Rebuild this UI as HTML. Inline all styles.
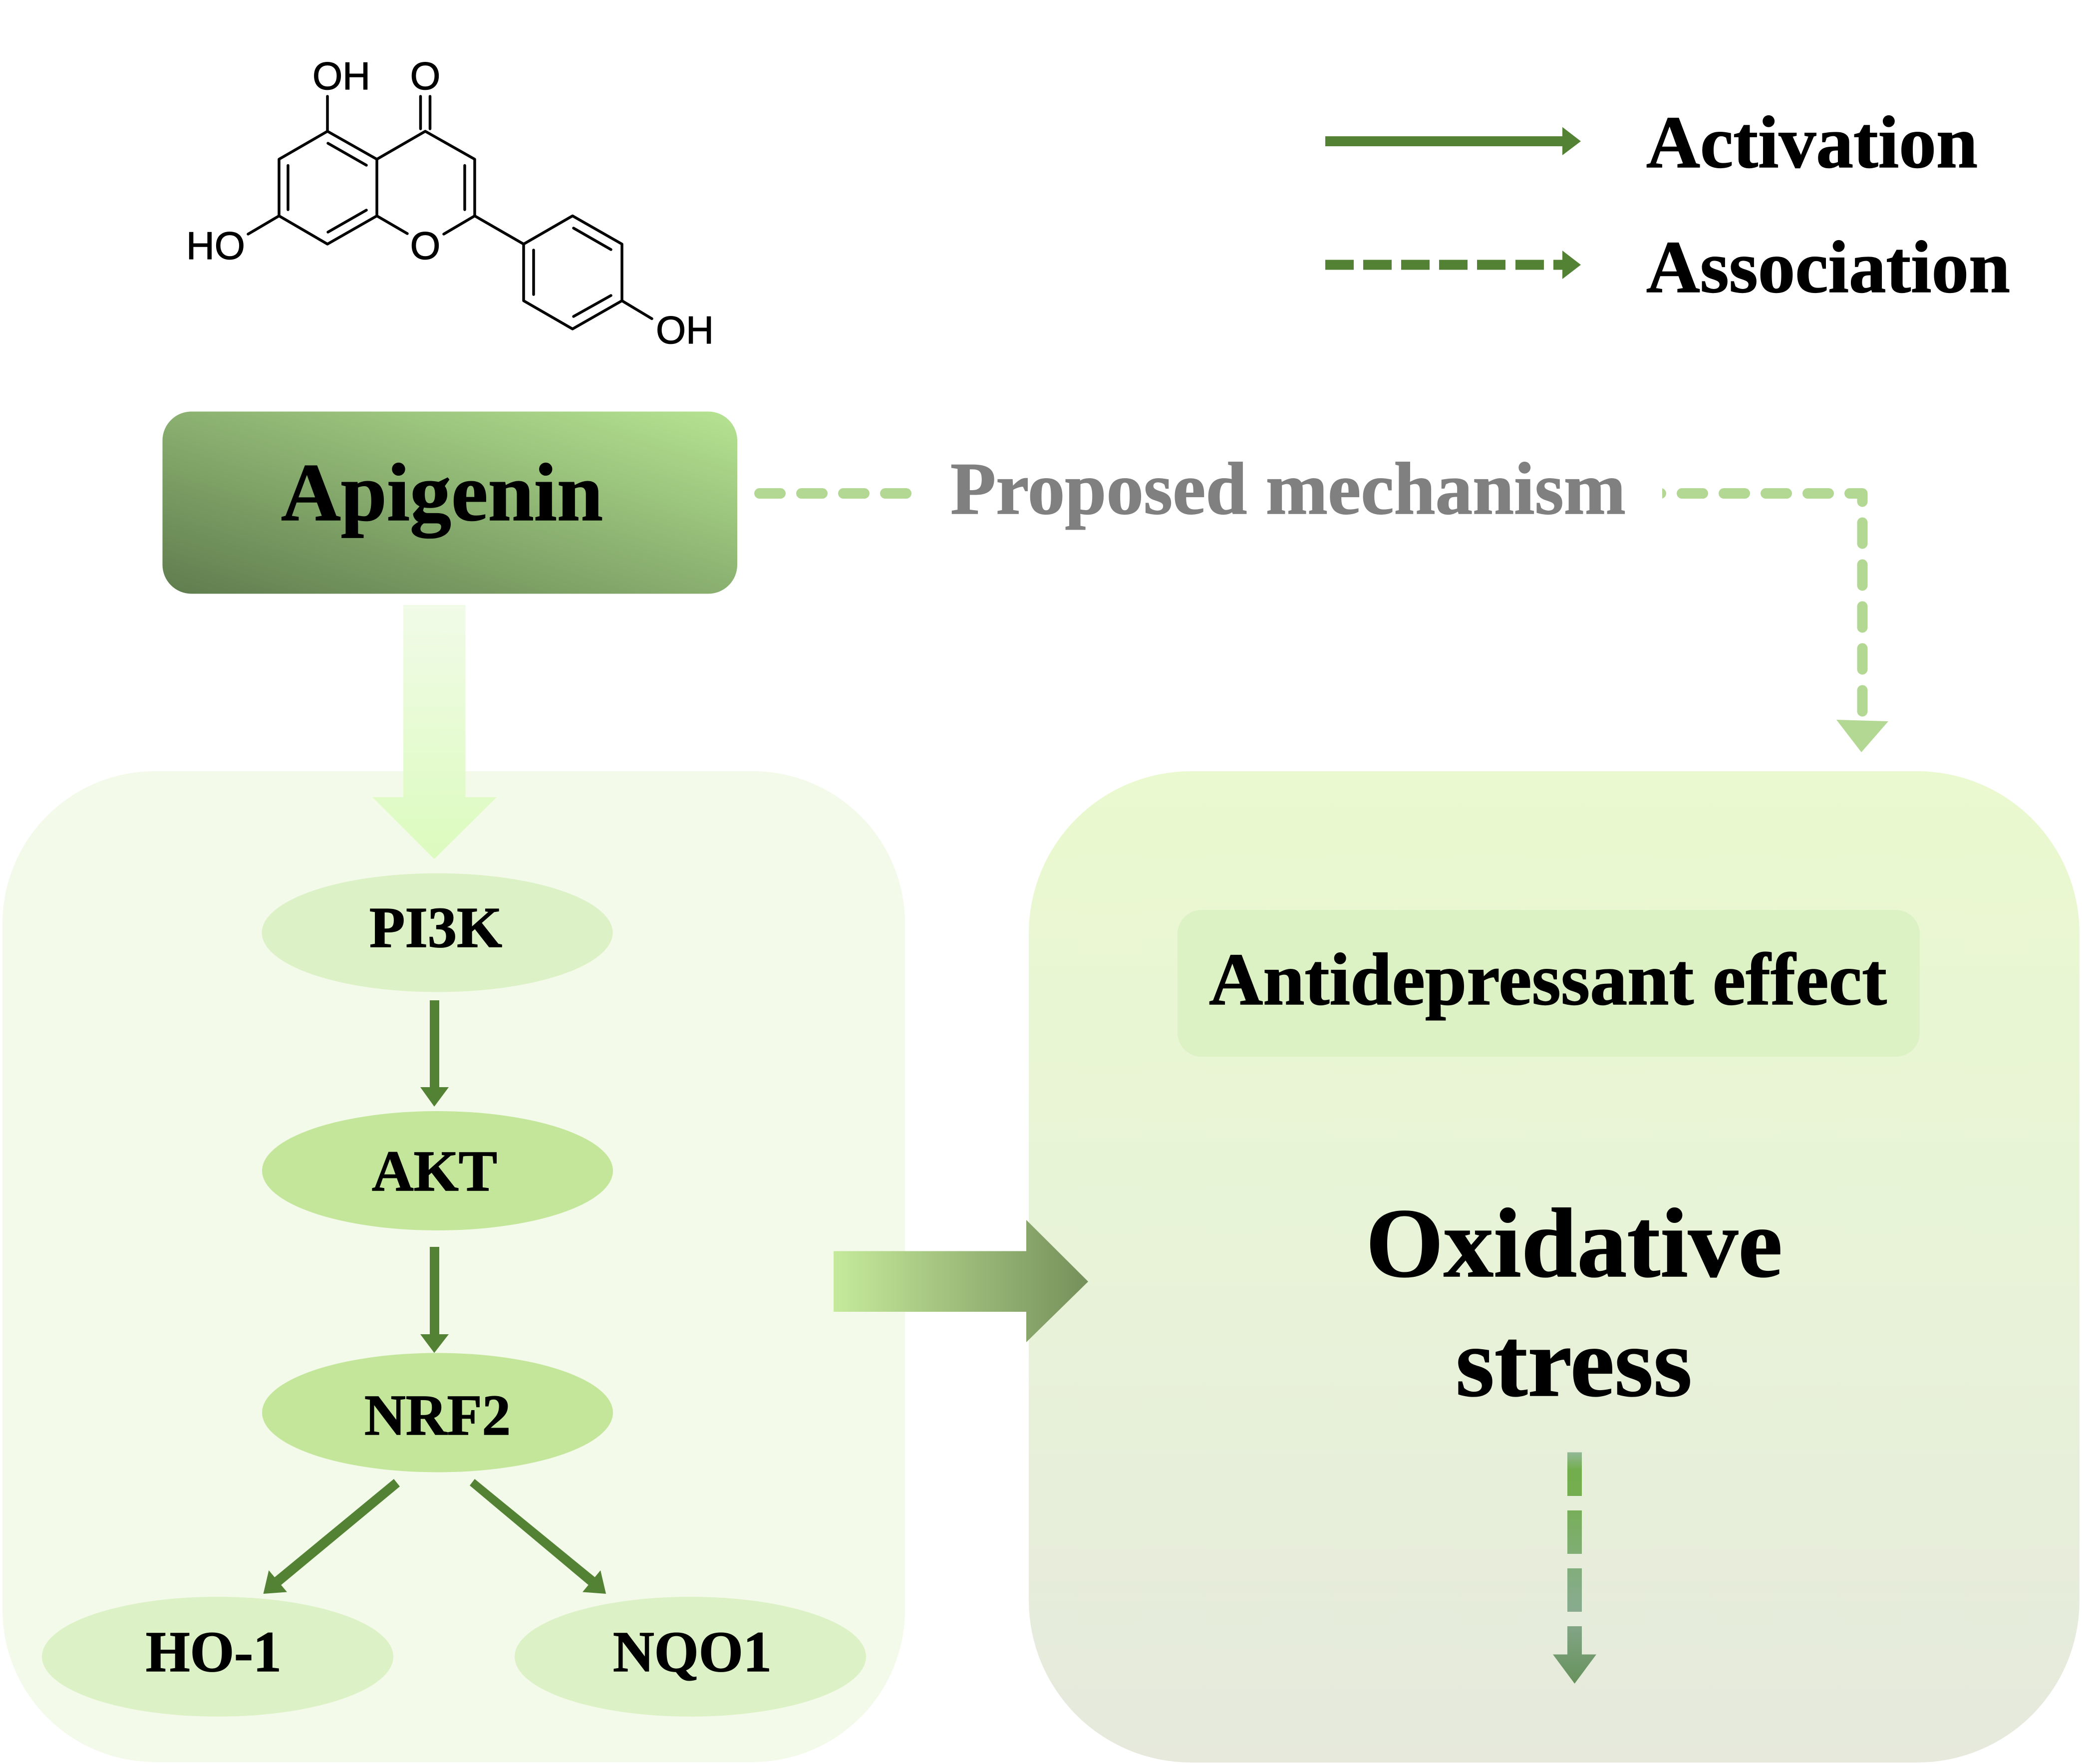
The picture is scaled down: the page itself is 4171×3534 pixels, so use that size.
<!DOCTYPE html>
<html lang="en">
<head>
<meta charset="utf-8">
<title>Apigenin mechanism</title>
<style>
html,body{margin:0;padding:0;background:#fff;width:4171px;height:3534px;overflow:hidden}
svg{display:block}
text{font-family:"Liberation Serif",serif;font-weight:700;fill:#000;stroke:#000;stroke-width:1.5;text-rendering:geometricPrecision}
.m{font-family:"Liberation Sans",sans-serif;font-weight:400;font-size:78px;stroke-width:1.2}
.g{fill:#808080;stroke:#808080}
.b{stroke:#000;stroke-width:5.5;fill:none;stroke-linecap:round;stroke-linejoin:round}
</style>
</head>
<body>
<svg xmlns="http://www.w3.org/2000/svg" width="4171" height="3534" viewBox="0 0 4171 3534">
<defs>
<linearGradient id="api" gradientUnits="userSpaceOnUse" x1="796" y1="1338.5" x2="1006" y2="675.5">
<stop offset="0" stop-color="#5F7C4E"/><stop offset="1" stop-color="#B6E492"/>
</linearGradient>
<linearGradient id="down" gradientUnits="userSpaceOnUse" x1="0" y1="1212" x2="0" y2="1721">
<stop offset="0" stop-color="#F1FBE8"/><stop offset="1" stop-color="#DCFBBE"/>
</linearGradient>
<linearGradient id="right" gradientUnits="userSpaceOnUse" x1="0" y1="1545" x2="0" y2="3531">
<stop offset="0" stop-color="#EAF9CF"/><stop offset="0.5" stop-color="#E8F3D8"/><stop offset="1" stop-color="#E6E9DC"/>
</linearGradient>
<linearGradient id="hor" gradientUnits="userSpaceOnUse" x1="1670" y1="0" x2="2180" y2="0">
<stop offset="0" stop-color="#C5EA9B"/><stop offset="1" stop-color="#76905B"/>
</linearGradient>
<linearGradient id="dash" gradientUnits="userSpaceOnUse" x1="0" y1="2909" x2="0" y2="3373">
<stop offset="0" stop-color="#93B898"/>
<stop offset="0.078" stop-color="#72AE4C"/>
<stop offset="0.19" stop-color="#75AE50"/>
<stop offset="0.44" stop-color="#80AE75"/>
<stop offset="0.69" stop-color="#88AB90"/>
<stop offset="0.754" stop-color="#82A585"/>
<stop offset="1" stop-color="#66915C"/>
</linearGradient>
</defs>

<!-- molecule -->
<g class="b">
<path d="M656 263L755 319L755 432.5L656 489L559 432.5L559 319Z"/>
<path d="M755 319L852 263L951 319L951 432.5L889 469"/>
<path d="M755 432.5L816 468"/>
<path d="M951 432.5L1049 489"/>
<path d="M1049 489L1147 432.5L1246 489L1246 602.5L1147 659L1049 602.5Z"/>
<path d="M656 193V263"/>
<path d="M842.5 193V258M861.5 193V258"/>
<path d="M559 432.5L497 469"/>
<path d="M1246 602.5L1306 638.5"/>
<path d="M657 287L734 331M577 331.5V420M931 331.5V420M657 465L734 421M1149 457L1224 500M1069 501V590M1149 634L1224 592"/>
</g>
<text class="m" x="626" y="179" textLength="116" lengthAdjust="spacingAndGlyphs">OH</text>
<text class="m" x="852" y="179" text-anchor="middle">O</text>
<text class="m" x="373" y="519" textLength="118" lengthAdjust="spacingAndGlyphs">HO</text>
<text class="m" x="852" y="519" text-anchor="middle">O</text>
<text class="m" x="1314" y="688" textLength="116" lengthAdjust="spacingAndGlyphs">OH</text>

<!-- legend -->
<g fill="#548235">
<rect x="2655" y="273" width="476" height="20"/>
<path d="M3130 254.5L3167 283L3130 311Z"/>
<rect x="2655" y="520.5" width="57" height="20"/>
<rect x="2731" y="520.5" width="57" height="20"/>
<rect x="2807" y="520.5" width="57" height="20"/>
<rect x="2883" y="520.5" width="57" height="20"/>
<rect x="2959" y="520.5" width="57" height="20"/>
<rect x="3036" y="520.5" width="57" height="20"/>
<rect x="3112" y="520.5" width="19" height="20"/>
<path d="M3130 502L3167 530.5L3130 559Z"/>
</g>
<text x="3298" y="335" font-size="149" textLength="664" lengthAdjust="spacingAndGlyphs">Activation</text>
<text x="3298" y="585" font-size="149" textLength="729" lengthAdjust="spacingAndGlyphs">Association</text>

<!-- panels -->
<rect x="5" y="1545" width="1808" height="1985" rx="305" ry="305" fill="#F3FAE9"/>
<rect x="2061" y="1545" width="2105" height="1986" rx="325" ry="325" fill="url(#right)"/>

<!-- Apigenin -->
<rect x="325.5" y="824.5" width="1151.5" height="365" rx="58" ry="58" fill="url(#api)"/>
<text x="563" y="1042" font-size="165" textLength="645" lengthAdjust="spacingAndGlyphs">Apigenin</text>

<!-- proposed mechanism dashed -->
<path d="M1521.5 988.5H3731V1425" fill="none" stroke="#B3D894" stroke-width="21" stroke-linecap="round" stroke-linejoin="round" stroke-dasharray="42 42"/>
<rect x="1835" y="965" width="1495" height="48" fill="#fff"/>
<path d="M3679 1442L3783 1445L3729 1507Z" fill="#B3D894"/>
<text class="g" x="1904" y="1029" font-size="149" textLength="1353" lengthAdjust="spacingAndGlyphs">Proposed mechanism</text>

<!-- big down arrow -->
<path d="M808 1212H932.5V1597H995L870 1721L746 1597H808Z" fill="url(#down)"/>

<!-- ellipses -->
<ellipse cx="876" cy="1868.5" rx="351.5" ry="119" fill="#DCF1C5"/>
<ellipse cx="876.5" cy="2345.5" rx="351.5" ry="119.5" fill="#C3E69B"/>
<ellipse cx="876.5" cy="2830" rx="351.5" ry="119.5" fill="#C3E69B"/>
<ellipse cx="436" cy="3319" rx="352" ry="120" fill="#DCF1C5"/>
<ellipse cx="1383" cy="3319" rx="352" ry="120" fill="#DCF1C5"/>

<text x="740" y="1897" font-size="116" textLength="266" lengthAdjust="spacingAndGlyphs">PI3K</text>
<text x="745" y="2385" font-size="116" textLength="251" lengthAdjust="spacingAndGlyphs">AKT</text>
<text x="730" y="2874" font-size="116" textLength="293" lengthAdjust="spacingAndGlyphs">NRF2</text>
<text x="292" y="3348" font-size="116" textLength="272" lengthAdjust="spacingAndGlyphs">HO-1</text>
<text x="1228" y="3348" font-size="116" textLength="318" lengthAdjust="spacingAndGlyphs">NQO1</text>

<!-- pathway arrows -->
<g fill="#548235">
<path d="M861 2004H880V2178H899L870 2217L842 2178H861Z"/>
<path d="M861 2498H880V2673H899L870 2710.5L842 2673H861Z"/>
<path d="M789 2963L801 2978L563 3175.5L550 3160Z"/>
<path d="M538.5 3146L575 3189.5L527.5 3193Z"/>
<path d="M951 2963L941 2976L1179 3175.5L1192 3160Z"/>
<path d="M1203 3146L1167 3189.5L1214 3193Z"/>
</g>

<!-- horizontal big arrow -->
<path d="M1670 2506.5H2056V2444L2180 2567.5L2056 2689V2628H1670Z" fill="url(#hor)"/>

<!-- right panel content -->
<rect x="2359" y="1823" width="1487" height="294" rx="48" ry="48" fill="#DCF1C4"/>
<text x="2422" y="2012" font-size="149" textLength="1358" lengthAdjust="spacingAndGlyphs">Antidepressant effect</text>
<text x="2736" y="2557" font-size="198" textLength="835" lengthAdjust="spacingAndGlyphs">Oxidative</text>
<text x="2916" y="2796" font-size="198" textLength="474" lengthAdjust="spacingAndGlyphs">stress</text>

<g fill="url(#dash)">
<rect x="3140" y="2909.5" width="29" height="87.5"/>
<rect x="3140" y="3026" width="29" height="87"/>
<rect x="3140" y="3142" width="29" height="87"/>
<path d="M3140 3258H3169V3314.5H3198L3154.5 3373L3111 3314.5H3140Z"/>
</g>
</svg>
</body>
</html>
